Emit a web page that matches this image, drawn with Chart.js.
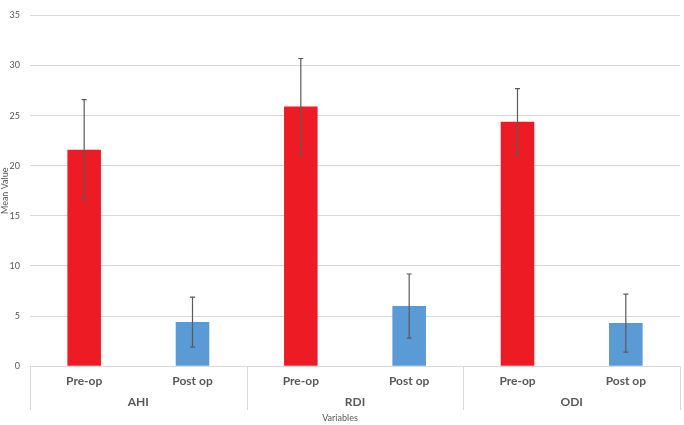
<!DOCTYPE html>
<html>
<head>
<meta charset="utf-8">
<script src="https://cdn.jsdelivr.net/npm/chart.js@4"></script>
<style>
    body { margin: 0; background: #fff; }
    #wrap { width: 684px; height: 425px; }
</style>
</head>
<body>
<div id="wrap"><canvas id="grafico"></canvas></div>
<script>
// =====================
// DADOS
// =====================
const variaveis = ["AHI", "RDI", "ODI"];
const fases = ["Pre-op", "Post op"];
const preOp = [21.6, 25.9, 24.4];
const postOp = [4.4, 6.0, 4.3];
const erroPre = [5.0, 4.8, 3.3];
const erroPost = [2.5, 3.2, 2.9];

const COR_PRE = "#ED1C24";
const COR_POST = "#5B9BD5";
const CINZA = "#595959";
const GRADE = "#D9D9D9";

// intercala Pre/Post para cada variável
let labels = [], valores = [], erros = [], cores = [];
variaveis.forEach((v, i) => {
    labels.push(fases[0], fases[1]);
    valores.push(preOp[i], postOp[i]);
    erros.push(erroPre[i], erroPost[i]);
    cores.push(COR_PRE, COR_POST);
});

// =====================
// BARRAS DE ERRO
// =====================
const barrasErro = {
    id: "barrasErro",
    afterDatasetsDraw(chart) {
        let ctx = chart.ctx;
        let y = chart.scales.y;
        let meta = chart.getDatasetMeta(0);
        ctx.save();
        ctx.strokeStyle = "#5a5a5a";
        ctx.lineWidth = 1.2;
        meta.data.forEach((bar, i) => {
            let topo = y.getPixelForValue(valores[i] + erros[i]);
            let base = y.getPixelForValue(valores[i] - erros[i]);
            ctx.beginPath();
            ctx.moveTo(bar.x, topo);
            ctx.lineTo(bar.x, base);
            ctx.moveTo(bar.x - 2.5, topo);
            ctx.lineTo(bar.x + 2.5, topo);
            ctx.moveTo(bar.x - 2.5, base);
            ctx.lineTo(bar.x + 2.5, base);
            ctx.stroke();
        });
        ctx.restore();
    }
};

// =====================
// SEPARADORES DOS GRUPOS (eixo x em dois níveis)
// =====================
const separadores = {
    id: "separadores",
    afterDraw(chart) {
        let ctx = chart.ctx;
        let x2 = chart.scales.x2;
        let topo = chart.chartArea.bottom;
        ctx.save();
        ctx.strokeStyle = GRADE;
        ctx.lineWidth = 1;
        for (let k = 0; k <= variaveis.length; k++) {
            let px = Math.round(x2.getPixelForValue(k - 0.5)) + 0.5;
            ctx.beginPath();
            ctx.moveTo(px, topo);
            ctx.lineTo(px, x2.bottom);
            ctx.stroke();
        }
        ctx.restore();
    }
};

new Chart(document.getElementById("grafico"), {
    type: "bar",
    data: {
        labels: labels,
        datasets: [{
            data: valores,
            backgroundColor: cores,
            borderWidth: 0,
            barPercentage: 0.31,
            categoryPercentage: 1
        }]
    },
    options: {
        responsive: true,
        maintainAspectRatio: false,
        animation: false,
        layout: { padding: { top: 6, right: 4, bottom: 2, left: 0 } },
        plugins: {
            legend: { display: false },
            tooltip: { enabled: false },
            title: {
                display: true,
                position: "bottom",
                text: "Variables",
                color: CINZA,
                padding: { top: 2, bottom: 0 },
                font: { family: "Lato", size: 9, weight: "normal" }
            }
        },
        scales: {
            y: {
                min: 0,
                max: 35,
                afterFit: s => { s.width = 30; },
                ticks: {
                    stepSize: 5,
                    color: CINZA,
                    padding: 10,
                    font: { family: "Lato", size: 9 }
                },
                grid: { color: GRADE, drawTicks: false },
                border: { display: false },
                title: {
                    display: true,
                    text: "Mean Value",
                    color: CINZA,
                    padding: { top: 0, bottom: 0 },
                    font: { family: "Lato", size: 9 }
                }
            },
            x: {
                position: "bottom",
                afterFit: s => { s.height = 22; },
                ticks: {
                    color: CINZA,
                    padding: 8,
                    maxRotation: 0,
                    font: { family: "Lato", size: 12, weight: "bold" }
                },
                grid: { display: false, drawTicks: false },
                border: { display: true, color: GRADE }
            },
            x2: {
                type: "category",
                position: "bottom",
                labels: variaveis,
                offset: true,
                afterFit: s => { s.height = 22; },
                grid: { display: false, drawTicks: false },
                border: { display: false },
                ticks: {
                    color: CINZA,
                    padding: 7,
                    maxRotation: 0,
                    font: { family: "Lato", size: 12, weight: "bold" }
                }
            }
        }
    },
    plugins: [barrasErro, separadores]
});
</script>
</body>
</html>
